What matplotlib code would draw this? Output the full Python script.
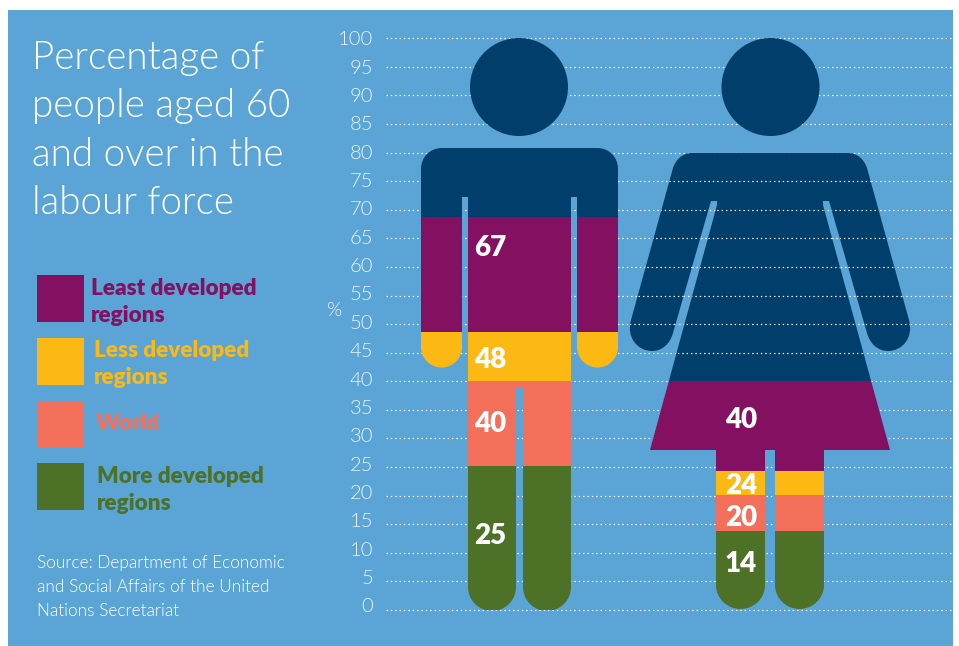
#!/usr/bin/env python
from __future__ import annotations

import matplotlib

matplotlib.use("Agg")
import matplotlib.pyplot as plt
from matplotlib.patches import Ellipse, PathPatch, Rectangle
from matplotlib.path import Path

plt.rcParams["font.family"] = ["Lato", "DejaVu Sans"]

W, H = 959, 646
Y0_PX, Y100_PX = 610.0, 38.3
X_LEFT, X_RIGHT = 386.0, 953.0
PX_PER_PCT = (Y0_PX - Y100_PX) / 100

BLUE = "#5AA5D5"
NAVY = "#003F6C"

REGIONS = ["More developed\nregions", "World", "Less developed\nregions", "Least developed\nregions"]
REGION_COLORS = ["#4E7128", "#F36F5A", "#FDB913", "#841062"]

# printed values, bottom to top of each figure
MAN_VALUES = [25, 40, 48, 67]
WOMAN_VALUES = [14, 20, 24, 40]
# where the colour changes actually sit on the % scale
MAN_TOPS = [25.2, 40.0, 48.6, 68.7]
WOMAN_TOPS = [13.8, 20.1, 24.3, 40.0]

TICKS = list(range(0, 105, 5))
TITLE = ["Percentage of", "people aged 60", "and over in the", "labour force"]
SOURCE = [
    "Source: Department of Economic",
    "and Social Affairs of the United",
    "Nations Secretariat",
]


def pct(y_px: float) -> float:
    return (Y0_PX - y_px) / PX_PER_PCT


class Outline:
    """Small path builder working in picture pixels, stored on the % scale."""

    def __init__(self, x: float, y: float) -> None:
        self.verts = [(x, pct(y))]
        self.codes = [Path.MOVETO]

    def line(self, *points: tuple[float, float]) -> "Outline":
        for x, y in points:
            self.verts.append((x, pct(y)))
            self.codes.append(Path.LINETO)
        return self

    def curve(self, c1, c2, end) -> "Outline":
        for x, y in (c1, c2, end):
            self.verts.append((x, pct(y)))
            self.codes.append(Path.CURVE4)
        return self

    def cap(self, x_to: float, y_end: float, y_bottom: float) -> "Outline":
        # half ellipse from the current point, down and over to x_to
        x_from = self.verts[-1][0]
        y_from = Y0_PX - self.verts[-1][1] * PX_PER_PCT
        xm = (x_from + x_to) / 2
        k = 0.5523
        self.curve((x_from, y_from + (y_bottom - y_from) * k),
                   (xm + (x_from - xm) * k, y_bottom), (xm, y_bottom))
        self.curve((xm + (x_to - xm) * k, y_bottom),
                   (x_to, y_end + (y_bottom - y_end) * k), (x_to, y_end))
        return self

    def path(self) -> Path:
        self.verts.append(self.verts[0])
        self.codes.append(Path.CLOSEPOLY)
        return Path(self.verts, self.codes)


def man_outline() -> Path:
    o = Outline(421, 169)
    o.curve((421, 157), (430, 148), (442, 148)).line((597, 148))
    o.curve((609, 148), (618, 157), (618, 169)).line((618, 347))
    o.cap(577, 347, 367.5).line((577, 197), (571, 197), (571, 587))
    o.cap(523, 587, 611).line((523, 388), (516, 388), (516, 587))
    o.cap(468, 587, 611).line((468, 197), (462, 197), (462, 347))
    o.cap(421, 347, 367.5)
    return o.path()


def woman_outline() -> Path:
    o = Outline(692, 153)
    o.line((848, 153))
    o.curve((857, 153), (864, 159), (867, 168)).line((909, 320))
    o.curve((914, 338), (902, 351), (888, 351))
    o.curve((878, 351), (870, 344), (867, 333)).line((829, 201), (823, 201), (823, 205), (890, 450), (824, 450), (824, 585))
    o.cap(775, 585, 609).line((775, 450), (765, 450), (765, 585))
    o.cap(716, 585, 609).line((716, 450), (650, 450), (717, 205), (717, 201), (711, 201), (673, 333))
    o.curve((670, 344), (662, 351), (652, 351))
    o.curve((638, 351), (626, 338), (631, 320)).line((673, 168))
    o.curve((676, 159), (683, 153), (692, 153))
    return o.path()


def draw_figure(ax, outline: Path, tops: list[float], x0: float, x1: float, head_x: float) -> PathPatch:
    clip = PathPatch(outline, facecolor="none", edgecolor="none", transform=ax.transData)
    ax.add_patch(clip)
    bottoms = [-1.0] + tops[:-1]
    heights = [t - b for t, b in zip(tops, bottoms)]
    bars = ax.bar([(x0 + x1) / 2] * 4, heights, width=x1 - x0, bottom=bottoms, color=REGION_COLORS, zorder=3)
    rest = ax.bar((x0 + x1) / 2, 100 - tops[-1], width=x1 - x0, bottom=tops[-1], color=NAVY, zorder=3)
    for bar in list(bars) + list(rest):
        bar.set_clip_path(clip)
    ax.add_patch(Ellipse((head_x, pct(87)), 98, 98 / PX_PER_PCT, facecolor=NAVY, edgecolor="none", zorder=3, clip_on=False))
    return clip


def render() -> None:
    fig = plt.figure(figsize=(W / 100, H / 100), dpi=100, facecolor="white")

    bg = fig.add_axes([0, 0, 1, 1], zorder=0)
    bg.set_xlim(0, W)
    bg.set_ylim(H, 0)
    bg.axis("off")
    bg.add_patch(Rectangle((8, 10), 945, 636, facecolor=BLUE, edgecolor="none"))

    for i, line in enumerate(TITLE):
        bg.text(32, 58.5 + i * 48, line, fontsize=27.8, fontweight=300, color="white", ha="left", va="center")

    swatch_y = [463, 401, 338, 275]
    swatch_h = [47, 46.5, 47, 47]
    text_x = [97, 96, 94, 91]
    text_y = [490, 423, 364, 302]
    for name, color, sy, sh, tx, ty in zip(REGIONS, REGION_COLORS, swatch_y, swatch_h, text_x, text_y):
        bg.add_patch(Rectangle((37, sy), 47, sh, facecolor=color, edgecolor="none"))
        bg.text(tx, ty, name, fontsize=16.2, fontweight=800, color=color, ha="left", va="center", linespacing=1.36)

    for i, line in enumerate(SOURCE):
        bg.text(37, 563 + i * 24, line, fontsize=12.4, fontweight=300, color="white", ha="left", va="center")
    bg.text(335, 310, "%", fontsize=14, fontweight=300, color="#EAF3FA", ha="center", va="center")

    ax = fig.add_axes(
        [X_LEFT / W, 1 - Y0_PX / H, (X_RIGHT - X_LEFT) / W, (Y0_PX - Y100_PX) / H],
        zorder=1,
    )
    ax.patch.set_alpha(0)
    ax.set_xlim(X_LEFT, X_RIGHT)
    ax.set_ylim(0, 100)
    for spine in ax.spines.values():
        spine.set_visible(False)
    ax.set_xticks([])
    ax.set_yticks([])

    dots = (0, (1.2, 2.5))
    ax.hlines(TICKS, X_LEFT, X_RIGHT, colors="white", linewidth=0.85, linestyles=[dots], zorder=1, clip_on=False)

    # the printed scale runs a little tighter than the dotted lines
    for t in TICKS:
        ax.text(373.5, pct(39.8 + (100 - t) * 5.67), str(t), fontsize=14.5, fontweight=300, color="#EAF3FA", ha="right", va="center", clip_on=False)

    draw_figure(ax, man_outline(), MAN_TOPS, 415, 625, 519)
    woman = draw_figure(ax, woman_outline(), WOMAN_TOPS, 625, 915, 770.5)

    # the dots carry on over the navy part of the woman only
    over = ax.hlines([t for t in TICKS if WOMAN_TOPS[-1] < t < 80], 625, 915, colors="white", linewidth=0.85, linestyles=[dots], zorder=4)
    over.set_clip_path(woman)

    man_label_y = [536.5, 424.5, 359.5, 247.5]
    woman_label_y = [564.5, 517.5, 485.5, 420.5]
    for value, y in zip(MAN_VALUES, man_label_y):
        ax.text(490.5, pct(y), str(value), fontsize=20, fontweight=800, color="white", ha="center", va="center", zorder=5)
    for value, y in zip(WOMAN_VALUES, woman_label_y):
        ax.text(741, pct(y), str(value), fontsize=20, fontweight=800, color="white", ha="center", va="center", zorder=5)

    fig.savefig("out.png", dpi=100, facecolor="white")
    plt.close(fig)


def main() -> None:
    render()


if __name__ == "__main__":
    main()
